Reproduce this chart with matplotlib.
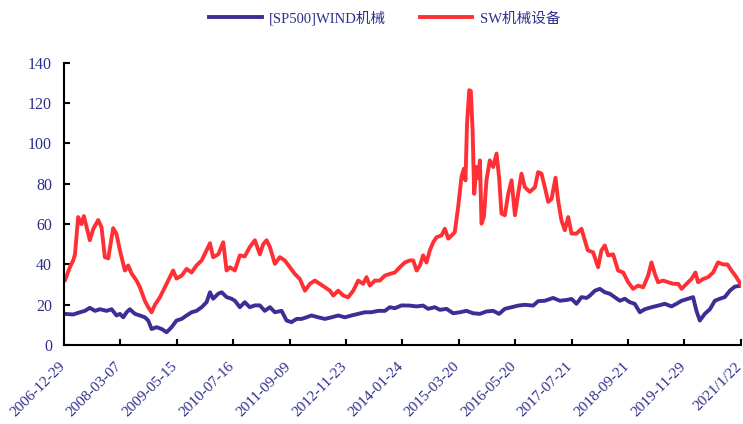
import matplotlib
matplotlib.use('Agg')
import matplotlib.pyplot as plt
import matplotlib.transforms as mtransforms

# x values are trading-day positions along the category axis (3420 days in total)
tick_days = [0, 285, 570, 855, 1140, 1425, 1710, 1995, 2280, 2565, 2850, 3135, 3420]
tick_labels = ['2006-12-29', '2008-03-07', '2009-05-15', '2010-07-16', '2011-09-09',
               '2012-11-23', '2014-01-24', '2015-03-20', '2016-05-20', '2017-07-21',
               '2018-09-21', '2019-11-29', '2021/1/22']

wind_days = [0, 47, 81, 106, 131, 157, 182, 216, 241, 266, 283, 300, 317, 333, 359, 384,
             409, 426, 443, 468, 494, 519, 544, 569, 595, 620, 645, 670, 696, 721, 738,
             754, 780, 797, 822, 847, 864, 889, 914, 939, 965, 990, 1015, 1041, 1066,
             1100, 1125, 1150, 1176, 1201, 1226, 1251, 1285, 1319, 1352, 1386, 1420,
             1453, 1487, 1521, 1554, 1588, 1622, 1647, 1672, 1706, 1748, 1782, 1815,
             1840, 1874, 1900, 1933, 1967, 2001, 2034, 2068, 2102, 2135, 2169, 2199,
             2228, 2262, 2295, 2329, 2371, 2396, 2430, 2472, 2506, 2540, 2565, 2590,
             2615, 2641, 2657, 2683, 2708, 2733, 2758, 2783, 2809, 2834, 2859, 2884,
             2910, 2935, 2969, 3002, 3036, 3070, 3095, 3121, 3154, 3179, 3196, 3213,
             3238, 3264, 3289, 3314, 3339, 3365, 3390, 3420]
wind_pe = [15.5, 15.2, 16.3, 17, 18.5, 17, 17.8, 17, 17.8, 14.7, 15.5, 13.8, 16.3, 17.8,
           15.5, 14.7, 13.8, 12.2, 8, 8.9, 8, 6.4, 8.9, 12.2, 13, 14.7, 16.3, 17, 18.8,
           21.3, 26.2, 23, 25.5, 26.2, 23.8, 23, 22, 18.8, 21.3, 18.8, 19.7, 19.7, 17,
           18.8, 16.3, 17, 12.2, 11.4, 13, 13, 13.8, 14.7, 13.8, 13, 13.8, 14.7, 13.8,
           14.7, 15.5, 16.3, 16.3, 17, 17, 18.8, 18.3, 19.7, 19.6, 19.2, 19.6, 18, 18.8,
           17.5, 18, 15.8, 16.3, 17, 15.8, 15.5, 16.7, 17, 15.5, 18, 18.8, 19.6, 20,
           19.6, 21.8, 22, 23.4, 22, 22.4, 22.9, 20.5, 23.8, 23.4, 24.5, 27, 27.9, 26.2,
           25.5, 23.8, 22, 23, 21.3, 20.5, 16.3, 17.8, 18.8, 19.6, 20.5, 19.2, 20.5, 22,
           23, 23.8, 17, 12.2, 15.5, 17.8, 22, 23, 23.8, 27, 29, 29.5]

sw_days = [0, 5, 30, 47, 56, 72, 89, 101, 115, 131, 148, 173, 190, 207, 224, 249, 266,
           283, 308, 325, 342, 367, 384, 409, 426, 443, 460, 485, 510, 535, 552, 569,
           595, 620, 645, 670, 696, 721, 738, 754, 780, 805, 822, 839, 864, 889, 914,
           939, 965, 990, 1007, 1024, 1041, 1066, 1091, 1116, 1142, 1167, 1192, 1218,
           1243, 1268, 1293, 1319, 1344, 1361, 1386, 1411, 1436, 1462, 1487, 1512, 1529,
           1546, 1571, 1596, 1622, 1647, 1672, 1697, 1723, 1748, 1765, 1782, 1799, 1815,
           1832, 1849, 1866, 1883, 1908, 1925, 1942, 1959, 1975, 1992, 2009, 2021, 2029,
           2037, 2048, 2056, 2065, 2073, 2085, 2093, 2102, 2110, 2122, 2135, 2152, 2169,
           2186, 2199, 2211, 2228, 2245, 2262, 2279, 2295, 2312, 2329, 2354, 2380, 2396,
           2413, 2430, 2447, 2464, 2484, 2497, 2514, 2531, 2548, 2565, 2590, 2615, 2632,
           2647, 2674, 2699, 2716, 2733, 2750, 2775, 2800, 2826, 2851, 2876, 2901, 2927,
           2952, 2969, 2986, 3002, 3028, 3053, 3078, 3104, 3121, 3146, 3171, 3191, 3204,
           3230, 3255, 3280, 3305, 3331, 3353, 3373, 3398, 3420]
sw_pe = [33, 32, 38.6, 42, 45, 63.5, 60, 64, 58.5, 52, 57.5, 62, 58.5, 43.6, 43, 58, 55,
         47, 37, 39.5, 35.5, 32, 28.7, 22, 18.8, 16.3, 20, 23.7, 28.7, 33.7, 37, 33,
         34.5, 37.8, 36, 39.5, 42, 47, 50.5, 43.6, 45, 51, 37, 38.6, 37, 44.5, 44, 48.6,
         52, 45, 50, 52, 48.6, 40.3, 43.6, 42, 38.6, 35.3, 32.8, 27, 30.4, 32, 30.4,
         28.7, 27, 24.6, 27, 24.6, 23.7, 27, 32, 30.4, 33.7, 29.5, 32, 32, 34.5, 35.3,
         36, 38.6, 41, 42, 42, 37, 39.5, 44.5, 41, 47, 51, 53.5, 54.4, 57.7, 52.8, 54.4,
         56, 68.5, 83.4, 87.5, 81.7, 110, 126.4, 126, 106.6, 75, 88.3, 83, 91.6, 60.2,
         63.5, 81.7, 91.6, 88.3, 95, 83, 65.2, 64.4, 75, 81.7, 64.4, 75, 85, 78.3, 76,
         78.3, 85.8, 85, 78.3, 71, 72.5, 83, 71.8, 61.8, 57, 63.5, 55.3, 55.3, 57.7, 52,
         47, 46, 38.6, 47, 49.4, 44.5, 45, 37, 36, 31.2, 27.9, 29.5, 28.7, 34.5, 41,
         35.3, 31.2, 32, 31.2, 30.4, 30.4, 27.9, 30.4, 32.8, 36, 31.2, 32.8, 33.7, 36,
         41, 40, 40, 37, 33.7, 30]

text_color = '#2e2e8c'
fonts = ['Liberation Serif', 'Noto Sans CJK SC']
plt.rcParams['font.family'] = fonts

fig = plt.figure(figsize=(7.43, 4.24), dpi=100)
ax = fig.add_axes([0.086, 0.186, 0.911, 0.666])

ax.plot(wind_days, wind_pe, color='#3b2f96', linewidth=2.8, label='[SP500]WIND机械')
ax.plot(sw_days, sw_pe, color='#ff3035', linewidth=2.8, label='SW机械设备')

ax.set_xlim(0, 3420)
ax.set_ylim(0, 140)
ax.set_yticks(range(0, 141, 20))
ax.set_xticks(tick_days)
ax.set_xticklabels(tick_labels, rotation=45, ha='right', rotation_mode='anchor')

for side in ['top', 'right']:
    ax.spines[side].set_visible(False)
for side in ['left', 'bottom']:
    ax.spines[side].set_linewidth(1.5)
ax.tick_params(axis='y', direction='in', length=4, width=1.5,
               labelsize=11.5, labelcolor=text_color, pad=8.5)
ax.tick_params(axis='x', direction='in', length=4, width=1.5,
               labelsize=11, labelcolor=text_color, pad=8)

# nudge the rotated date labels a little left
shift = mtransforms.ScaledTranslation(-4 / 72, -2.5 / 72, fig.dpi_scale_trans)
for lab in ax.get_xticklabels():
    lab.set_transform(lab.get_transform() + shift)

leg = fig.legend(loc='upper center', bbox_to_anchor=(0.518, 1.005), ncol=2, frameon=False,
                 fontsize=10.5, handlelength=3.6, columnspacing=2.3, handletextpad=0.5)
for t in leg.get_texts():
    t.set_color(text_color)

fig.savefig('out.png', dpi=100)
